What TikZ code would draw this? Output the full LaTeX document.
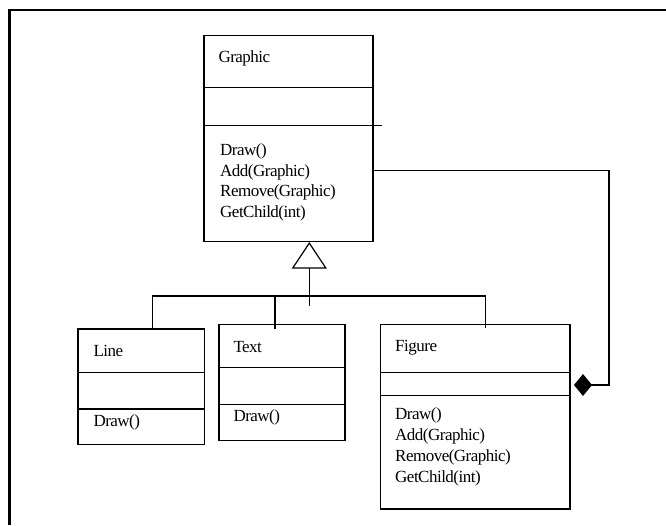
\documentclass[tikz,border=0pt]{standalone}
\usepackage{fontspec}
\setmainfont{Liberation Serif}[LetterSpace=-3]
\usetikzlibrary{arrows.meta, calc}
\tikzset{
	classbox/.style={draw, line width=1.3pt, inner sep=0pt, anchor=north west}, % one box per class
	label/.style={inner sep=0pt, anchor=base west}, % names and methods
	sep/.style={line width=1.3pt}, % lines between the parts of a box
	conn/.style={line width=1.2pt}, % connectors
	inherit/.style={conn, -{Triangle[open, length=26.6pt, width=35pt, line width=1.2pt]}},
	compose/.style={conn, {Diamond[length=18pt, width=22pt]}-},
	frame/.style={line width=2.5pt},
}

\begin{document}
\begin{tikzpicture}[x=1pt, y=-1pt, font=\fontsize{17pt}{19pt}\selectfont]
	\useasboundingbox (0,0) rectangle (666,525);
	
	% frame
	\draw[frame] (9.5,525) -- (9.5,10) -- (666,10);
	
	% Component
	\node[classbox, minimum width=169pt, minimum height=205.7pt] (graphic) at (203.3,35) {};
	\draw[sep] ([yshift=-52.3pt]graphic.north west) -- ([yshift=-52.3pt]graphic.north east);
	\draw[sep] ([yshift=-90.7pt]graphic.north west) -- ([xshift=8.4pt, yshift=-90.7pt]graphic.north east);
	\node[label] (graphicName) at (218.3,62) {Graphic};
	\node[label] (graphicDraw) at (220,155.5) {Draw()};
	\node[label] (graphicAdd) at (220,176) {Add(Graphic)};
	\node[label] (graphicRemove) at (220,196.5) {Remove(Graphic)};
	\node[label] (graphicChild) at (220,217) {GetChild(int)};
	
	% Leaves
	\node[classbox, minimum width=126.7pt, minimum height=115.7pt] (line) at (77.3,328.3) {};
	\draw[sep] ([yshift=-44.4pt]line.north west) -- ([yshift=-44.4pt]line.north east);
	\draw[sep] ([yshift=-80.7pt]line.north west) -- ([yshift=-80.7pt]line.north east);
	\node[label] (lineName) at (93.3,356) {Line};
	\node[label] (lineDraw) at (93.3,426.5) {Draw()};
	
	\node[classbox, minimum width=126pt, minimum height=116pt] (text) at (218.3,324) {};
	\draw[sep] ([yshift=-43.7pt]text.north west) -- ([yshift=-43.7pt]text.north east);
	\draw[sep] ([yshift=-80.3pt]text.north west) -- ([yshift=-80.3pt]text.north east);
	\node[label] (textName) at (233.3,352) {Text};
	\node[label] (textDraw) at (233.3,421.5) {Draw()};
	
	% Composite
	\node[classbox, minimum width=189.3pt, minimum height=184.3pt] (figure) at (380,324) {};
	\draw[sep] ([yshift=-48.7pt]figure.north west) -- ([yshift=-48.7pt]figure.north east);
	\draw[sep] ([yshift=-71.7pt]figure.north west) -- ([yshift=-71.7pt]figure.north east);
	\node[label] (figureName) at (395,351.5) {Figure};
	\node[label] (figureDraw) at (395,419.5) {Draw()};
	\node[label] (figureAdd) at (395,440.5) {Add(Graphic)};
	\node[label] (figureRemove) at (395,461.5) {Remove(Graphic)};
	\node[label] (figureChild) at (395,482.5) {GetChild(int)};
	
	% Inheritance
	\coordinate (stem) at (309.3,306);
	\coordinate (bar) at (309.3,296);
	\draw[inherit] (stem) -- (stem |- graphic.south);
	\draw[conn] ([xshift=11pt]line.north) |- (bar) -| ([xshift=10.3pt, yshift=-4pt]figure.north);
	\draw[conn] ([xshift=-7pt, yshift=-4.7pt]text.north) -- ([xshift=-7pt]text.north |- bar);
	
	% Composition
	\coordinate (part) at ([xshift=3.4pt, yshift=-61pt]figure.north east);
	\draw[compose] (part) -- ++(35,0) |- ([yshift=-32.2pt]graphic.east);
	
\end{tikzpicture}
\end{document}
